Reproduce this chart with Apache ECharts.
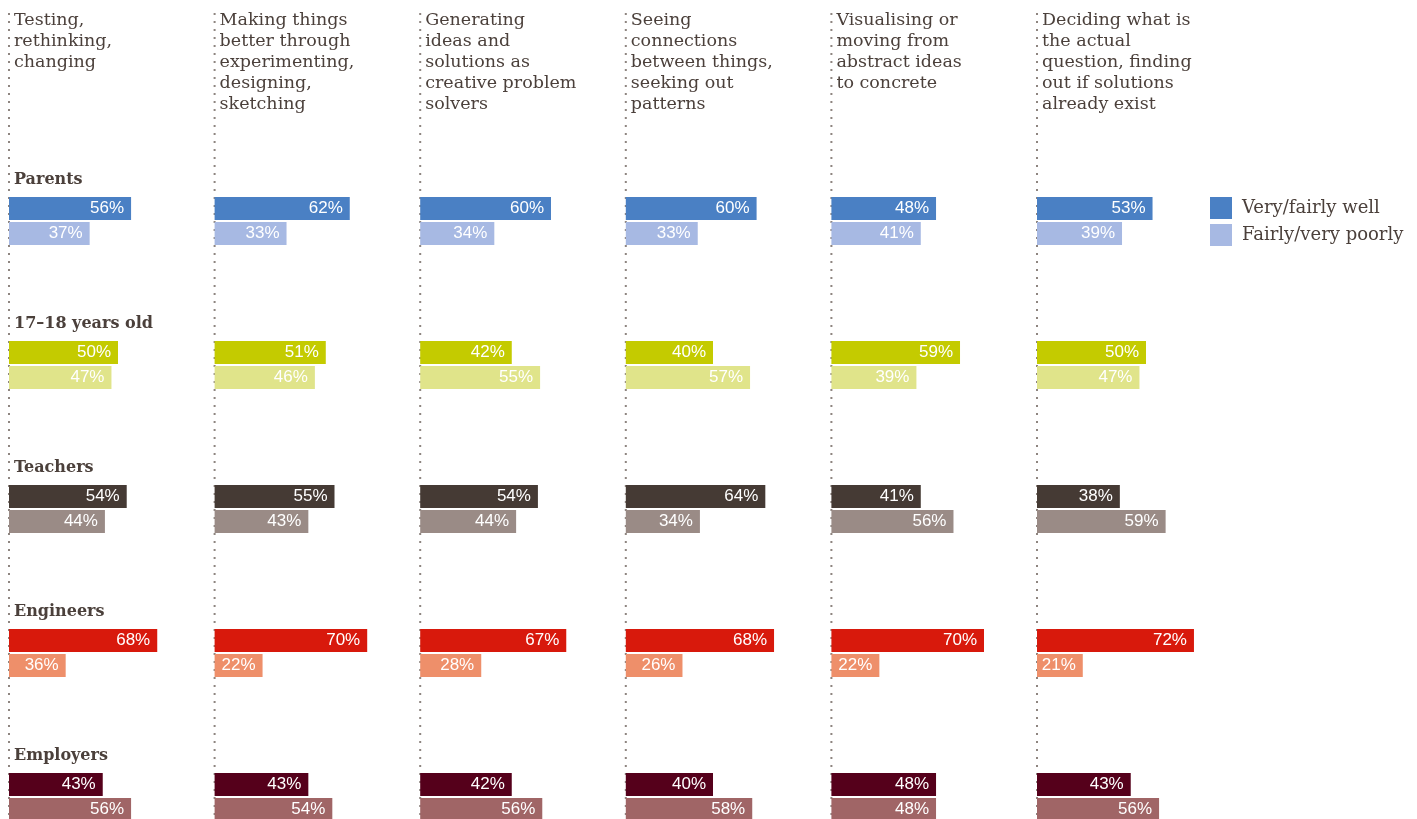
<!DOCTYPE html>
<html><head><meta charset="utf-8">
<script src="https://cdn.jsdelivr.net/npm/echarts@6/dist/echarts.min.js"></script>
<style>html,body{margin:0;padding:0;background:#fff}#c{width:1417px;height:819px}</style>
</head><body><div id="c"></div>
<script>
const skills = [
  "Testing,\nrethinking,\nchanging",
  "Making things\nbetter through\nexperimenting,\ndesigning,\nsketching",
  "Generating\nideas and\nsolutions as\ncreative problem\nsolvers",
  "Seeing\nconnections\nbetween things,\nseeking out\npatterns",
  "Visualising or\nmoving from\nabstract ideas\nto concrete",
  "Deciding what is\nthe actual\nquestion, finding\nout if solutions\nalready exist"
];
const groups = ["Parents", "17–18 years old", "Teachers", "Engineers", "Employers"];
const seriesNames = ["Very/fairly well", "Fairly/very poorly"];
// well[group][skill]
const well = [
  [56, 62, 60, 60, 48, 53],
  [50, 51, 42, 40, 59, 50],
  [54, 55, 54, 64, 41, 38],
  [68, 70, 67, 68, 70, 72],
  [43, 43, 42, 40, 48, 43]
];
// bar lengths as drawn
const poorly = [
  [37, 33, 34, 33, 41, 39],
  [47, 46, 55, 57, 39, 47],
  [44, 43, 44, 34, 56, 59],
  [26, 22, 28, 26, 22, 21],
  [56, 54, 56, 58, 48, 56]
];
// printed labels (one differs from its drawn bar in the original)
const poorlyLabels = [
  [37, 33, 34, 33, 41, 39],
  [47, 46, 55, 57, 39, 47],
  [44, 43, 44, 34, 56, 59],
  [36, 22, 28, 26, 22, 21],
  [56, 54, 56, 58, 48, 56]
];
const wellColors = ["#4a80c4", "#c4cb00", "#453a34", "#d8190c", "#55001b"];
const poorlyColors = ["#a7b9e3", "#e0e48a", "#9a8b86", "#ee8f6a", "#a06566"];

const textColor = "#4b403b";
const serif = "DejaVu Serif";
const colX = i => 9 + i * 205.6;

const chart = echarts.init(document.getElementById('c'), null, {renderer: 'canvas'});
const grids = [], xAxes = [], yAxes = [], series = [], titles = [];
skills.forEach((s, i) => {
  grids.push({left: colX(i), width: 218, top: 221, height: 576, containLabel: false});
  xAxes.push({type: 'value', min: 0, max: 100, gridIndex: i, show: false});
  yAxes.push({type: 'category', data: groups, inverse: true, boundaryGap: false, gridIndex: i, show: false});
  titles.push({text: s, left: colX(i) + 5, top: 10, padding: 0,
    textStyle: {fontFamily: serif, fontSize: 17.5, fontWeight: 'normal', lineHeight: 21, color: textColor}});
  const lbl = {show: true, position: 'insideRight', distance: 7, color: '#fff',
    fontFamily: 'Liberation Sans', fontSize: 17};
  series.push({
    name: seriesNames[0], type: 'bar', xAxisIndex: i, yAxisIndex: i, clip: false,
    barWidth: 23, barGap: '9%', itemStyle: {color: wellColors[0]},
    label: Object.assign({}, lbl, {formatter: p => well[p.dataIndex][i] + '%'}),
    data: groups.map((g, gi) => ({value: well[gi][i], itemStyle: {color: wellColors[gi]}})),
    silent: true, animation: false
  });
  series.push({
    name: seriesNames[1], type: 'bar', xAxisIndex: i, yAxisIndex: i, clip: false,
    barWidth: 23, barGap: '9%', itemStyle: {color: poorlyColors[0]},
    label: Object.assign({}, lbl, {formatter: p => poorlyLabels[p.dataIndex][i] + '%'}),
    data: groups.map((g, gi) => ({value: poorly[gi][i], itemStyle: {color: poorlyColors[gi]}})),
    silent: true, animation: false
  });
});

chart.setOption({
  animation: false,
  title: titles,
  grid: grids, xAxis: xAxes, yAxis: yAxes, series: series,
  legend: {
    data: seriesNames, orient: 'vertical', left: 1210, top: 197, padding: 0, itemWidth: 22, itemHeight: 22,
    itemGap: 5, icon: 'rect', selectedMode: false,
    textStyle: {fontFamily: serif, fontSize: 18, color: textColor, padding: [0, 0, 0, 5]}
  }
});

// dotted column rules and group titles, positioned from the axes
const graphics = [];
skills.forEach((s, i) => {
  const x0 = chart.convertToPixel({gridIndex: i}, [0, groups[0]])[0];
  graphics.push({type: 'line', silent: true,
    shape: {x1: x0, y1: 13, x2: x0, y2: 819},
    style: {stroke: '#8e8580', lineWidth: 2, lineDash: [2, 6]}, z: -1});
});
groups.forEach((g, gi) => {
  const p = chart.convertToPixel({gridIndex: 0}, [0, g]);
  graphics.push({type: 'text', silent: true, x: p[0] + 5, y: p[1] - 41,
    style: {text: g, fontFamily: serif, fontWeight: 'bold', fontSize: 16, fill: textColor,
      verticalAlign: 'middle', align: 'left'}});
});
chart.setOption({graphic: graphics});
</script></body></html>
